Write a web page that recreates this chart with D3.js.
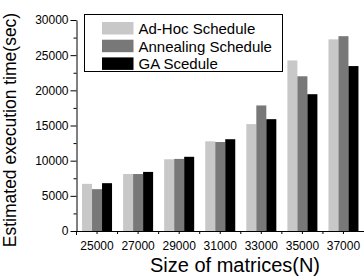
<!DOCTYPE html>
<html>
<head>
<meta charset="utf-8">
<script src="https://cdn.jsdelivr.net/npm/d3@7"></script>
<style>
  body { margin: 0; background: #fff; }
  svg { display: block; font-family: "Liberation Sans", Arial, sans-serif; }
  .axis text { font-size: 12px; fill: #000; }
  .axis path, .axis line { stroke: #000; }
</style>
</head>
<body>
<div id="chart"></div>
<script>
// Chart data
const sizes = ["25000", "27000", "29000", "31000", "33000", "35000", "37000"];
const seriesNames = ["Ad-Hoc Schedule", "Annealing Schedule", "GA Scedule"];
const adHoc = [6700, 8100, 10200, 12750, 15200, 24250, 27250];
const annealing = [5950, 8100, 10250, 12650, 17850, 22000, 27700];
const gaSchedule = [6800, 8400, 10550, 13050, 15900, 19450, 23450];
const yTicks = [0, 5000, 10000, 15000, 20000, 25000, 30000];
const colors = ["#c8c8c8", "#787878", "#000000"];

const seriesValues = [adHoc, annealing, gaSchedule];
const data = sizes.map((s, i) => ({size: s, values: seriesValues.map(v => v[i])}));

const width = 364, height = 280;
const margin = {top: 20, right: 0, bottom: 49, left: 76.5};

const svg = d3.select("#chart")
    .append("svg")
    .attr("width", width)
    .attr("height", height);

const x = d3.scaleBand()
    .domain(sizes)
    .range([margin.left, width - margin.right])
    .paddingInner(0)
    .paddingOuter(0);

const xInner = d3.scaleBand()
    .domain(d3.range(seriesNames.length))
    .range([0, 30]);

const y = d3.scaleLinear()
    .domain([0, 30000])
    .range([height - margin.bottom, margin.top]);

// Bars
const groups = svg.selectAll(".group")
    .data(data)
    .enter().append("g")
    .attr("class", "group")
    .attr("transform", d => `translate(${x(d.size) + (x.bandwidth() - 30) / 2},0)`);

groups.selectAll("rect")
    .data(d => d.values)
    .enter().append("rect")
    .attr("x", (d, i) => xInner(i))
    .attr("width", xInner.bandwidth())
    .attr("y", d => y(d))
    .attr("height", d => y(0) - y(d))
    .attr("fill", (d, i) => colors[i]);

// Y axis with minor ticks
const yMinor = d3.range(2500, 30000, 5000);
svg.append("g")
    .attr("class", "axis")
    .attr("transform", `translate(${margin.left},0)`)
    .call(d3.axisLeft(y).tickValues(yMinor).tickSize(3).tickFormat(""))
    .call(g => g.select(".domain").remove());

svg.append("g")
    .attr("class", "axis")
    .attr("transform", `translate(${margin.left},0)`)
    .call(d3.axisLeft(y).tickValues(yTicks).tickFormat(d3.format("d"))
        .tickSize(6).tickPadding(2).tickSizeOuter(0))
    .call(g => g.selectAll("text").attr("font-size", "12.5px"));

// X axis
const xAxis = svg.append("g")
    .attr("class", "axis")
    .attr("transform", `translate(0,${y(0)})`)
    .call(d3.axisBottom(x).tickSize(3).tickPadding(7).tickSizeOuter(0));

// boundary ticks between groups
xAxis.selectAll(".bound")
    .data(sizes.slice(1))
    .enter().append("line")
    .attr("class", "bound")
    .attr("x1", d => x(d))
    .attr("x2", d => x(d))
    .attr("y1", 0)
    .attr("y2", 3)
    .attr("stroke", "#000");

xAxis.append("line")
    .attr("x1", margin.left)
    .attr("x2", margin.left)
    .attr("y1", 0)
    .attr("y2", 4)
    .attr("stroke", "#000");

// Axis titles
svg.append("text")
    .attr("x", 235)
    .attr("y", 272)
    .attr("text-anchor", "middle")
    .attr("font-size", "20px")
    .text("Size of matrices(N)");

svg.append("text")
    .attr("transform", "translate(16,130) rotate(-90)")
    .attr("text-anchor", "middle")
    .attr("font-size", "17.5px")
    .text("Estimated execution time(sec)");

// Legend
const legend = svg.append("g");
legend.append("rect")
    .attr("x", 84.5)
    .attr("y", 14.5)
    .attr("width", 198)
    .attr("height", 57)
    .attr("fill", "#fff")
    .attr("stroke", "#000");

const items = legend.selectAll(".item")
    .data(seriesNames)
    .enter().append("g")
    .attr("transform", (d, i) => `translate(102,${22 + i * 17.7})`);

items.append("rect")
    .attr("width", 31.5)
    .attr("height", 12.5)
    .attr("fill", (d, i) => colors[i]);

items.append("text")
    .attr("x", 36.5)
    .attr("y", 12)
    .attr("font-size", "15px")
    .text(d => d);
</script>
</body>
</html>
